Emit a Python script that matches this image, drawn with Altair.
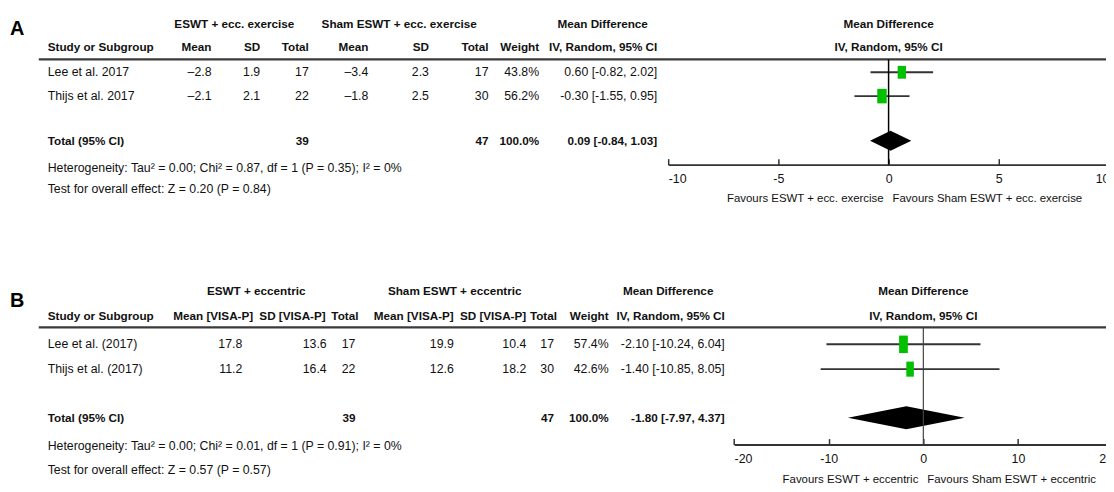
import altair as alt
import pandas as pd

# ---------------- data: panel A ----------------
studies_A = ["Lee et al. 2017", "Thijs et al. 2017"]
exp_mean_A = [-2.8, -2.1]
exp_sd_A = [1.9, 2.1]
exp_n_A = [17, 22]
ctl_mean_A = [-3.4, -1.8]
ctl_sd_A = [2.3, 2.5]
ctl_n_A = [17, 30]
weight_A = [43.8, 56.2]
md_A = [0.60, -0.30]
lo_A = [-0.82, -1.55]
hi_A = [2.02, 0.95]
total_A = {"n_exp": 39, "n_ctl": 47, "w": 100.0, "md": 0.09, "lo": -0.84, "hi": 1.03}
group_A = ["ESWT + ecc. exercise", "Sham ESWT + ecc. exercise"]
header_A = ["Mean", "SD", "Total", "Mean", "SD", "Total", "Weight", "IV, Random, 95% CI"]
het_A = "Heterogeneity: Tau\u00b2 = 0.00; Chi\u00b2 = 0.87, df = 1 (P = 0.35); I\u00b2 = 0%"
test_A = "Test for overall effect: Z = 0.20 (P = 0.84)"
ticks_A = [-10, -5, 0, 5, 10]
fav_A = ["Favours ESWT + ecc. exercise", "Favours Sham ESWT + ecc. exercise"]

# ---------------- data: panel B ----------------
studies_B = ["Lee et al. (2017)", "Thijs et al. (2017)"]
exp_mean_B = [17.8, 11.2]
exp_sd_B = [13.6, 16.4]
exp_n_B = [17, 22]
ctl_mean_B = [19.9, 12.6]
ctl_sd_B = [10.4, 18.2]
ctl_n_B = [17, 30]
weight_B = [57.4, 42.6]
md_B = [-2.10, -1.40]
lo_B = [-10.24, -10.85]
hi_B = [6.04, 8.05]
total_B = {"n_exp": 39, "n_ctl": 47, "w": 100.0, "md": -1.80, "lo": -7.97, "hi": 4.37}
group_B = ["ESWT + eccentric", "Sham ESWT + eccentric"]
header_B = ["Mean [VISA-P]", "SD [VISA-P]", "Total", "Mean [VISA-P]", "SD [VISA-P]", "Total", "Weight", "IV, Random, 95% CI"]
het_B = "Heterogeneity: Tau\u00b2 = 0.00; Chi\u00b2 = 0.01, df = 1 (P = 0.91); I\u00b2 = 0%"
test_B = "Test for overall effect: Z = 0.57 (P = 0.57)"
ticks_B = [-20, -10, 0, 10, 20]
fav_B = ["Favours ESWT + eccentric", "Favours Sham ESWT + eccentric"]

# ---------------- layout (page pixels) ----------------
FONT = "'Liberation Sans', Arial, sans-serif"
FS_R = 12.4
FS_B = 11.8
FS_FAV = 11.5
FS_TICK = 12.5
INK = "#111111"
YS = alt.Scale(domain=[8, 492], range=[0, 484])

LA = dict(letter=("A", 10, 27), hdr1=22, hdr2=46, rule=58, rows=[71, 95], total=140, het=167, test=189,
          axis=164, fav=199, study=48, grp=[236, 402], mdhdr=607,
          hcols=[213, 262, 311, 371, 432, 492, 543, 662],
          vcols=[213, 262, 311, 371, 432, 492, 543, 662],
          px=[673, 1117], half=10, shape="M-0.65,-1L0.65,-1L0.65,1L-0.65,1Z", size_range=[0, 380],
          zero_color="#000000", zero_w=1.5)
LB = dict(letter=("B", 10, 301), hdr1=291, hdr2=317, rule=328, rows=[345, 370], total=419, het=447, test=472,
          axis=446, fav=482, study=48, grp=[258, 458], mdhdr=673,
          hcols=[255, 328, 361, 457, 530, 561, 613, 730],
          vcols=[244, 329, 358, 457, 530, 558, 613, 730],
          px=[739.4, 1120.6], half=11.5, shape="M-0.5,-1L0.5,-1L0.5,1L-0.5,1Z", size_range=[0, 540],
          zero_color="#444444", zero_w=1.2)


def dash(v):
    return f"{v:.1f}".replace("-", "\u2013")


def ci_text(m, l, h):
    return f"{m:.2f} [{l:.2f}, {h:.2f}]"


cells = []


def add(text, x, y, align="left", bold=False):
    cells.append(dict(text=text, x=x - 8, y=y, align=align, bold=bold))


def table(L, studies, em, esd, en, cm, csd, cn, w, md, lo, hi, tot, groups, headers, het, test, neg):
    add(groups[0], L["grp"][0], L["hdr1"], "center", True)
    add(groups[1], L["grp"][1], L["hdr1"], "center", True)
    add("Mean Difference", L["mdhdr"], L["hdr1"], "center", True)
    add("Study or Subgroup", L["study"], L["hdr2"], "left", True)
    for h, c in zip(headers, L["hcols"]):
        add(h, c, L["hdr2"], "right", True)
    for i, s in enumerate(studies):
        y = L["rows"][i]
        add(s, L["study"], y)
        vals = [neg(em[i]), f"{esd[i]:.1f}", str(en[i]), neg(cm[i]), f"{csd[i]:.1f}", str(cn[i]),
                f"{w[i]:.1f}%", ci_text(md[i], lo[i], hi[i])]
        for v, c in zip(vals, L["vcols"]):
            add(v, c, y, "right")
    add("Total (95% CI)", L["study"], L["total"], "left", True)
    for v, c in [(str(tot["n_exp"]), L["vcols"][2]), (str(tot["n_ctl"]), L["vcols"][5]),
                 (f"{tot['w']:.1f}%", L["vcols"][6]), (ci_text(tot["md"], tot["lo"], tot["hi"]), L["vcols"][7])]:
        add(v, c, L["total"], "right", True)
    add(het, L["study"], L["het"])
    add(test, L["study"], L["test"])


table(LA, studies_A, exp_mean_A, exp_sd_A, exp_n_A, ctl_mean_A, ctl_sd_A, ctl_n_A, weight_A, md_A, lo_A, hi_A,
      total_A, group_A, header_A, het_A, test_A, dash)
table(LB, studies_B, exp_mean_B, exp_sd_B, exp_n_B, ctl_mean_B, ctl_sd_B, ctl_n_B, weight_B, md_B, lo_B, hi_B,
      total_B, group_B, header_B, het_B, test_B, lambda v: f"{v:.1f}")

cells_df = pd.DataFrame(cells)

layers = []
for align in ["left", "right", "center"]:
    for bold in [False, True]:
        sub = cells_df[(cells_df["align"] == align) & (cells_df["bold"] == bold)]
        if len(sub) == 0:
            continue
        layers.append(
            alt.Chart(sub).mark_text(align=align, baseline="middle", font=FONT,
                                     fontSize=FS_B if bold else FS_R,
                                     fontWeight="bold" if bold else "normal", color=INK)
            .encode(x=alt.X("x:Q", scale=None, axis=None), y=alt.Y("y:Q", scale=YS, axis=None), text="text:N")
        )

letters = pd.DataFrame({"text": [LA["letter"][0], LB["letter"][0]],
                        "x": [LA["letter"][1] - 8, LB["letter"][1] - 8],
                        "y": [LA["letter"][2], LB["letter"][2]]})
layers.append(
    alt.Chart(letters).mark_text(align="left", baseline="middle", font=FONT,
                                 fontSize=20, fontWeight="bold", color="#000")
    .encode(x=alt.X("x:Q", scale=None, axis=None), y=alt.Y("y:Q", scale=YS, axis=None), text="text:N")
)

rules = pd.DataFrame({"x": [39 - 8, 39 - 8], "x2": [1114 - 8, 1114 - 8], "y": [LA["rule"], LB["rule"]]})
layers.append(
    alt.Chart(rules).mark_rule(color="#3a3a3a", strokeWidth=2.2)
    .encode(x=alt.X("x:Q", scale=None, axis=None), x2="x2:Q", y=alt.Y("y:Q", scale=YS, axis=None))
)


def forest(L, md, lo, hi, w, tot, ticks, fav):
    xs = alt.Scale(domain=[ticks[0], ticks[-1]], range=[L["px"][0] - 8, L["px"][1] - 8])
    ax = alt.Axis(orient="top", offset=-(L["axis"] - 8), values=ticks, tickSize=6, tickWidth=1.5,
                  tickColor="#333333", domainColor="#333333", domainWidth=2, labelPadding=-20,
                  labelBaseline="middle", labelFlush=True, labelOverlap=False, labelFont=FONT,
                  labelFontSize=FS_TICK, labelColor=INK, grid=False, title=None,
                  labelExpr="toString(datum.value)")
    yenc = alt.Y("y:Q", scale=YS, axis=None)
    st = pd.DataFrame({"md": md, "lo": lo, "hi": hi, "w": w, "y": L["rows"]})
    ci = alt.Chart(st).mark_rule(color="#333333", strokeWidth=2).encode(
        x=alt.X("lo:Q", scale=xs, axis=ax), x2="hi:Q", y=yenc)
    box = alt.Chart(st).mark_point(shape=L["shape"], filled=True, color="#00c000", opacity=1, strokeWidth=0).encode(
        x=alt.X("md:Q", scale=xs, axis=ax), y=yenc,
        size=alt.Size("w:Q", scale=alt.Scale(domain=[0, 100], range=L["size_range"]), legend=None))
    hh = [0, L["half"], 0]
    dia = pd.DataFrame({"x": [tot["lo"], tot["md"], tot["hi"]],
                        "y": [L["total"] - h for h in hh], "y2": [L["total"] + h for h in hh]})
    diamond = alt.Chart(dia).mark_area(color="#000000", opacity=1).encode(
        x=alt.X("x:Q", scale=xs, axis=ax), y=yenc, y2="y2:Q")
    z = pd.DataFrame({"x": [0], "y": [L["rule"]], "y2": [L["axis"]]})
    zero = alt.Chart(z).mark_rule(color=L["zero_color"], strokeWidth=L["zero_w"]).encode(
        x=alt.X("x:Q", scale=xs, axis=ax), y=yenc, y2="y2:Q")
    fv = pd.DataFrame({"x": [0], "y": [L["fav"]], "t1": [fav[0]], "t2": [fav[1]]})
    favL = alt.Chart(fv).mark_text(align="right", baseline="middle", dx=-5, font=FONT, fontSize=FS_FAV,
                                   color=INK).encode(x=alt.X("x:Q", scale=xs, axis=ax), y=yenc, text="t1:N")
    favR = alt.Chart(fv).mark_text(align="left", baseline="middle", dx=4, font=FONT, fontSize=FS_FAV,
                                   color=INK).encode(x=alt.X("x:Q", scale=xs, axis=ax), y=yenc, text="t2:N")
    hd = pd.DataFrame({"x": [0, 0], "y": [L["hdr1"], L["hdr2"]], "t": ["Mean Difference", "IV, Random, 95% CI"]})
    hdr = alt.Chart(hd).mark_text(align="center", baseline="middle", font=FONT, fontSize=FS_B, fontWeight="bold",
                                  color=INK).encode(x=alt.X("x:Q", scale=xs, axis=ax), y=yenc, text="t:N")
    return alt.layer(ci, box, diamond, zero, favL, favR, hdr)


layers.append(forest(LA, md_A, lo_A, hi_A, weight_A, total_A, ticks_A, fav_A))
layers.append(forest(LB, md_B, lo_B, hi_B, weight_B, total_B, ticks_B, fav_B))

chart = (
    alt.layer(*layers)
    .resolve_scale(x="independent", size="independent")
    .properties(width=1106, height=484, autosize=alt.AutoSizeParams(type="none"), padding=0)
    .configure_view(strokeWidth=0)
)

chart.save("out.html", embed_options={"renderer": "svg", "actions": False})
